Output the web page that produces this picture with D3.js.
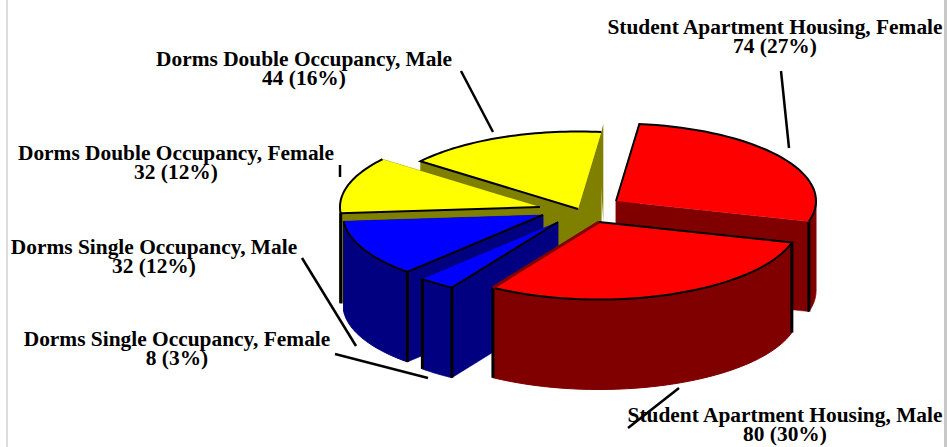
<!DOCTYPE html>
<html>
<head>
<meta charset="utf-8">
<script src="https://cdn.jsdelivr.net/npm/d3@7"></script>
<style>
  body { margin: 0; background: #fff; }
  text { font-family: "Liberation Serif", serif; font-weight: bold; font-size: 21.4px; fill: #000; }
</style>
</head>
<body>
<div id="chart"></div>
<script>
const categories = [
  "Student Apartment Housing, Female",
  "Student Apartment Housing, Male",
  "Dorms Single Occupancy, Female",
  "Dorms Single Occupancy, Male",
  "Dorms Double Occupancy, Female",
  "Dorms Double Occupancy, Male"
];
const values = [74, 80, 8, 32, 32, 44];
const topColors = ["#ff0000", "#ff0000", "#0000ff", "#0000ff", "#ffff00", "#ffff00"];
const sideColors = ["#800000", "#800000", "#000080", "#000080", "#808000", "#808000"];

// layout of the exploded pie, pixels
const width = 947, height = 447;
const rx = 200, ry = 77.5, depth = 90;
const tips = [[616, 201], [599, 222], [558, 222], [543, 215], [540, 207], [578, 209]];
const drawOrder = [5, 4, 0, 3, 2, 1];
const startAngle = 6.7 * Math.PI / 180;

// label centre + first baseline, leader start/end
const labelPos = [[775, 34], [785, 422], [177, 346], [154, 254], [176, 160], [304, 66]];
const leaders = [
  [[781, 71], [789, 148]],
  [[679, 388], [628, 428]],
  [[335, 354], [428, 378]],
  [[302, 258], [356, 346]],
  [[340, 165], [340, 177]],
  [[461, 71], [493, 132]]
];

const svg = d3.select("#chart").append("svg")
  .attr("width", width)
  .attr("height", height)
  .style("display", "block");

// frame lines left and right of the scan
svg.append("rect").attr("x", 6).attr("y", 0).attr("width", 2).attr("height", height).attr("fill", "#dcdcdc");
svg.append("rect").attr("x", 944).attr("y", 0).attr("width", 3).attr("height", height).attr("fill", "#c8c8c8");

const total = d3.sum(values);
const slices = d3.pie().sort(null).startAngle(startAngle).endAngle(startAngle + 2 * Math.PI)(values);
const line = d3.line();

// angle is clockwise from north, like d3.pie
const rimPoint = (i, a, dy = 0) => [
  tips[i][0] + rx * Math.sin(a),
  tips[i][1] - ry * Math.cos(a) + dy
];
const rim = (i, a0, a1, dy = 0) =>
  d3.range(0, 41).map(k => rimPoint(i, a0 + (a1 - a0) * k / 40, dy));

function drawSlice(i) {
  const s = slices[i];
  const g = svg.append("g");
  const tip = tips[i];
  const tipLow = [tip[0], tip[1] + depth];
  const side = sideColors[i];

  // radial walls
  [s.startAngle, s.endAngle].forEach(a => {
    g.append("path")
      .attr("d", line([tip, rimPoint(i, a), rimPoint(i, a, depth), tipLow]) + "Z")
      .attr("fill", side).attr("stroke", side).attr("stroke-width", 0.5);
  });

  // the wall of the last slice sticks out a bit above its top in the original
  if (i === 5) {
    const p = rimPoint(i, s.endAngle);
    g.append("path")
      .attr("d", line([[p[0] - 3, p[1] + 12], [p[0] + 2, p[1] - 8], [p[0] + 2, p[1] + 90]]) + "Z")
      .attr("fill", side);
  }

  // outer wall, only the part facing us
  const a0 = Math.max(s.startAngle, Math.PI / 2);
  const a1 = Math.min(s.endAngle, 3 * Math.PI / 2);
  if (a1 > a0) {
    g.append("path")
      .attr("d", line(rim(i, a0, a1).concat(rim(i, a1, a0, depth))) + "Z")
      .attr("fill", side).attr("stroke", side).attr("stroke-width", 1);
  }

  // black corners
  [s.startAngle, s.endAngle].forEach((a, k) => {
    if (a <= Math.PI / 2 || a >= 3 * Math.PI / 2) return;
    if (i === 3 && k === 1) return;
    g.append("path")
      .attr("d", line([rimPoint(i, a), rimPoint(i, a, depth)]))
      .attr("stroke", "#000").attr("stroke-width", 3).attr("fill", "none");
  });

  // top face
  g.append("path")
    .attr("d", line([tip].concat(rim(i, s.startAngle, s.endAngle))) + "Z")
    .attr("fill", topColors[i]);

  // outline: rim and start edge only, the far edge has none
  g.append("path")
    .attr("d", line(rim(i, s.endAngle, s.startAngle).concat([tip])))
    .attr("fill", "none").attr("stroke", "#000").attr("stroke-width", 2);

  if (i === 1) {
    g.append("path")
      .attr("d", line([tip, rimPoint(i, s.endAngle)]))
      .attr("stroke", "#800000").attr("stroke-width", 3).attr("fill", "none");
  }
}

drawOrder.forEach(drawSlice);

// leaders
svg.append("g").selectAll("path").data(leaders).enter().append("path")
  .attr("d", d => line(d))
  .attr("stroke", "#000")
  .attr("stroke-width", 2.5)
  .attr("fill", "none");

// labels
const labels = svg.append("g").selectAll("text").data(categories).enter().append("text")
  .attr("text-anchor", "middle");
labels.append("tspan")
  .attr("x", (d, i) => labelPos[i][0])
  .attr("y", (d, i) => labelPos[i][1])
  .text(d => d);
labels.append("tspan")
  .attr("x", (d, i) => labelPos[i][0])
  .attr("y", (d, i) => labelPos[i][1] + 19)
  .text((d, i) => `${values[i]} (${Math.round(values[i] / total * 100)}%)`);
</script>
</body>
</html>
